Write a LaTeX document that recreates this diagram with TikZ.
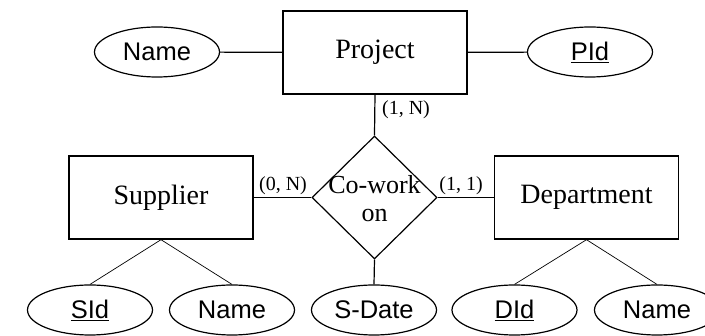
\documentclass[tikz,border=0pt]{standalone}
\usepackage{fontspec}
\setmainfont{Liberation Serif}
\newfontfamily\attrfont{Liberation Sans}
\usetikzlibrary{shapes.geometric}
\begin{document}
\begin{tikzpicture}[x=1pt,y=-1pt,
  entity/.style={draw,line width=1.4pt,minimum width=184pt,minimum height=83pt,inner sep=0pt,font=\fontsize{28}{32}\selectfont},
  attr/.style={draw,ellipse,line width=1.2pt,minimum width=125pt,minimum height=50pt,inner sep=0pt,font=\attrfont\fontsize{25.5}{30}\selectfont},
  rel/.style={draw,diamond,line width=1.2pt,minimum width=125pt,minimum height=123pt,inner sep=0pt},
  card/.style={font=\fontsize{20}{24}\selectfont,inner sep=0pt},
  conn/.style={line width=1.2pt},
  thin/.style={line width=0.7pt}]
\useasboundingbox (0,0) rectangle (705,336);
\node[entity] (proj) at (375,52.5) {Project};
\node[entity] (supp) at (161,197.5) {Supplier};
\node[entity] (dept) at (586.5,197.5) {Department};
\node[rel] (cw) at (374.5,197.5) {};
\node[align=center,inner sep=0pt,font=\fontsize{26}{28}\selectfont] (cwt) at (374.5,199) {Co-work\\on};
\node[attr] (pname) at (157,52) {Name};
\node[attr] (pid) at (590,52) {\underline{PId}};
\node[attr] (sid) at (90,310) {\underline{SId}};
\node[attr] (sname) at (232,310) {Name};
\node[attr] (sdate) at (374,310) {S-Date};
\node[attr] (did) at (514.5,310) {\underline{DId}};
\node[attr] (dname) at (657,310) {Name};
\draw[conn] (pname) -- (proj);
\draw[conn] (pid) -- (proj);
\draw[conn] (proj.south) -- (cw.north);
\draw[conn] (supp.east) -- (cw.west);
\draw[conn] (cw.east) -- (dept.west);
\draw[conn] (cw.south) -- (sdate.north);
\draw[thin] (supp.south) -- (sid.north);
\draw[thin] (supp.south) -- (sname.north);
\draw[thin] (dept.south) -- (did.north);
\draw[thin] (dept.south) -- (dname.north);
\node[card] (c1) at (406,110) {(1, N)};
\node[card] (c2) at (283,186) {(0, N)};
\node[card] (c3) at (461,186) {(1, 1)};
\end{tikzpicture}
\end{document}
